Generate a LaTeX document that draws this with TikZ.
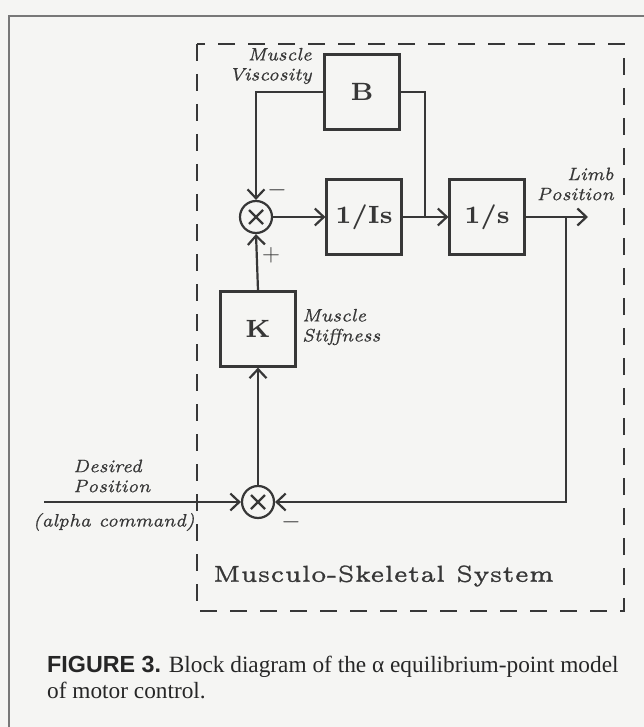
\documentclass[tikz,border=0pt]{standalone}
\usepackage{amsmath}
\usepackage{fontspec}
\usepackage{xcolor}
\usepackage{tikz}
\usetikzlibrary{positioning, arrows.meta, calc}

\newfontfamily\capserif{Liberation Serif}
\newfontfamily\capsans{Liberation Sans}
\newfontfamily\wideroman{lmroman5-regular.otf}[FakeBold=1.2]
\newfontfamily\wideitalic{lmroman7-italic.otf}[FakeBold=0.6]
\newfontfamily\widebold{lmroman7-bold.otf}
\definecolor{paper}{RGB}{245,245,243}
\definecolor{ink}{RGB}{55,55,55}
\definecolor{edge}{RGB}{120,120,120}

\begin{document}
\begin{tikzpicture}[
      x=1pt, y=-1pt,
      block/.style={
        draw=ink,
        line width=2.2pt,
        minimum width=75pt,
        minimum height=75pt,
        text=ink,
        font=\fontsize{25}{25}\selectfont\widebold
      },
      sum/.style={
        draw=ink,
        circle,
        line width=2.2pt,
        minimum size=32pt,
        inner sep=0pt,
        path picture={
          \draw[ink, line width=2.2pt]
            ($(path picture bounding box.center)+(-7pt,-7pt)$) -- ($(path picture bounding box.center)+(7pt,7pt)$)
            ($(path picture bounding box.center)+(-7pt,7pt)$) -- ($(path picture bounding box.center)+(7pt,-7pt)$);
        }
      },
      arrow/.style={
        -{Straight Barb[length=9pt, width=17pt, line width=2.2pt]},
        draw=ink,
        line width=2.2pt
      },
      wire/.style={draw=ink, line width=2.2pt},
      sidenote/.style={
        text=ink,
        inner sep=0pt,
        font=\fontsize{18}{20}\selectfont\wideitalic
      },
      signtxt/.style={text=ink, inner sep=0pt, font=\fontsize{24}{24}\selectfont}
    ]

    \fill[paper] (0,0) rectangle (644,727);
    \useasboundingbox (0,0) rectangle (644,727);
    \draw[edge, line width=1.6pt] (644,16) -- (9,16) -- (9,727);

    % musculo-skeletal system
    \draw[ink, line width=2pt, dash pattern=on 17pt off 13pt] (197,44) rectangle (624,611);

    \node[block] (B) at (362,92) {B};
    \node[block] (integI) at (364,217) {1/Is};
    \node[block] (integ) at (487,217) {1/s};
    \node[block] (K) at (258,329) {K};

    \node[sum] (sumtop) at (256,217) {};
    \node[sum] (sumbot) at (258,502) {};

    \coordinate (desired) at (44,502);
    \coordinate (tap) at (425,217);
    \coordinate (fb) at (566,217);
    \coordinate (limb) at (588,217);

    \draw[arrow] (desired) -- (sumbot.west);
    \draw[arrow] (sumbot.north) -- (K.south);
    \draw[arrow] (K.north) -- (sumtop.south);
    \draw[arrow] (sumtop.east) -- (integI.west);
    \draw[arrow] (integI.east) -- (integ.west);
    \draw[wire] (tap) |- (B.east);
    \draw[arrow] (B.west) -| (sumtop.north);
    \draw[arrow] (integ.east) -- (limb);
    \draw[arrow] (fb) |- (sumbot.east);

    \node[sidenote, align=right, anchor=east] (visc) at (312,66) {Muscle\\Viscosity};
    \node[sidenote, align=right, anchor=east] (limbtxt) at (614,184) {Limb\\Position};
    \node[sidenote, align=left, anchor=west] (stiff) at (302,327) {Muscle\\Stiffness};
    \node[sidenote, align=left, anchor=west] (desiredtxt) at (73,476) {Desired\\Position};
    \node[sidenote, anchor=east] (alpha) at (195,522) {(alpha command)};

    \node[signtxt] (minustop) at (277,190) {$-$};
    \node[signtxt] (plustop) at (271,255) {$+$};
    \node[signtxt] (minusbot) at (291,522) {$-$};

    \node[text=ink, inner sep=0pt, anchor=west, font=\fontsize{23}{23}\selectfont\wideroman] (system) at (213,576) {Musculo-Skeletal System};

    \node[anchor=base west, inner sep=0pt, text=black!85, font=\fontsize{23.3}{25}\selectfont\capserif] (caption) at (47,672)
      {{\capsans\bfseries FIGURE 3.} Block diagram of the α equilibrium-point model};
    \node[anchor=base west, inner sep=0pt, text=black!85, font=\fontsize{23.3}{25}\selectfont\capserif] (caption2) at (47,698)
      {of motor control.};

    \end{tikzpicture}
\end{document}
